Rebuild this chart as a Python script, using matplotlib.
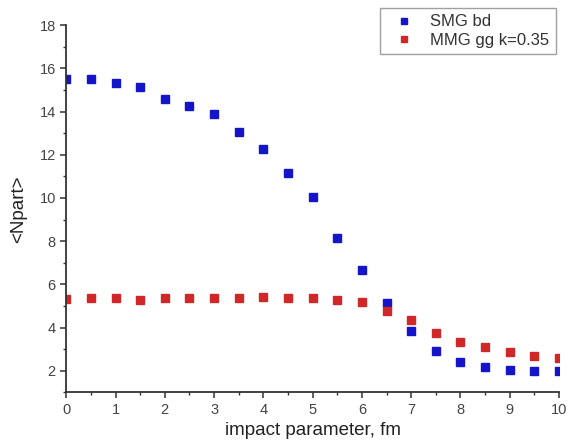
import matplotlib
matplotlib.use("Agg")
import matplotlib.pyplot as plt
from matplotlib.ticker import MultipleLocator

plt.rcParams['font.family'] = ['Liberation Sans', 'DejaVu Sans']

# impact parameter, fm
b = [0, 0.5, 1, 1.5, 2, 2.5, 3, 3.5, 4, 4.5, 5,
     5.5, 6, 6.5, 7, 7.5, 8, 8.5, 9, 9.5, 10]

# SMG bd
smg_bd = [15.5, 15.5, 15.3, 15.15, 14.6, 14.25, 13.9, 13.05, 12.28, 11.15, 10.05,
          8.17, 6.66, 5.12, 3.83, 2.93, 2.4, 2.18, 2.03, 1.98, 1.98]

# MMG gg k=0.35
mmg_gg = [5.33, 5.35, 5.35, 5.3, 5.37, 5.37, 5.37, 5.38, 5.4, 5.38, 5.35,
          5.27, 5.18, 4.79, 4.34, 3.74, 3.35, 3.09, 2.86, 2.7, 2.59]

fig = plt.figure(figsize=(5.71, 4.48), dpi=100)
ax = fig.add_axes([0.116, 0.124, 0.863, 0.82])

ax.plot(b, smg_bd, 's', color='#1414c8', markersize=5.5, label='SMG bd')
ax.plot(b, mmg_gg, 's', color='#d02828', markersize=5.5, label='MMG gg k=0.35')

ax.set_xlim(0, 10)
ax.set_ylim(1, 18)
ax.xaxis.set_major_locator(MultipleLocator(1))
ax.xaxis.set_minor_locator(MultipleLocator(0.5))
ax.yaxis.set_major_locator(MultipleLocator(2))
ax.yaxis.set_minor_locator(MultipleLocator(1))

for s in ['top', 'right']:
    ax.spines[s].set_visible(False)
for s in ['left', 'bottom']:
    ax.spines[s].set_linewidth(1.3)
    ax.spines[s].set_color('#333333')

ax.tick_params(which='major', direction='out', length=4, width=1.1, colors='#333333',
               labelsize=10.5, labelcolor='#444444')
ax.tick_params(which='minor', direction='out', length=2.5, width=1.0, colors='#333333')

ax.set_xlabel('impact parameter, fm', fontsize=13.5, color='#222222', labelpad=4)
ax.set_ylabel('<Npart>', fontsize=13.5, color='#222222', labelpad=9)

leg = ax.legend(loc='upper right', bbox_to_anchor=(1.011, 1.07), fontsize=12,
                frameon=True, fancybox=False, edgecolor='#888888',
                handletextpad=0.6, borderpad=0.4, labelspacing=0.2, markerscale=0.9)
leg.get_frame().set_linewidth(1.0)
for t in leg.get_texts():
    t.set_color('#333333')

fig.savefig('out.png', dpi=100)
